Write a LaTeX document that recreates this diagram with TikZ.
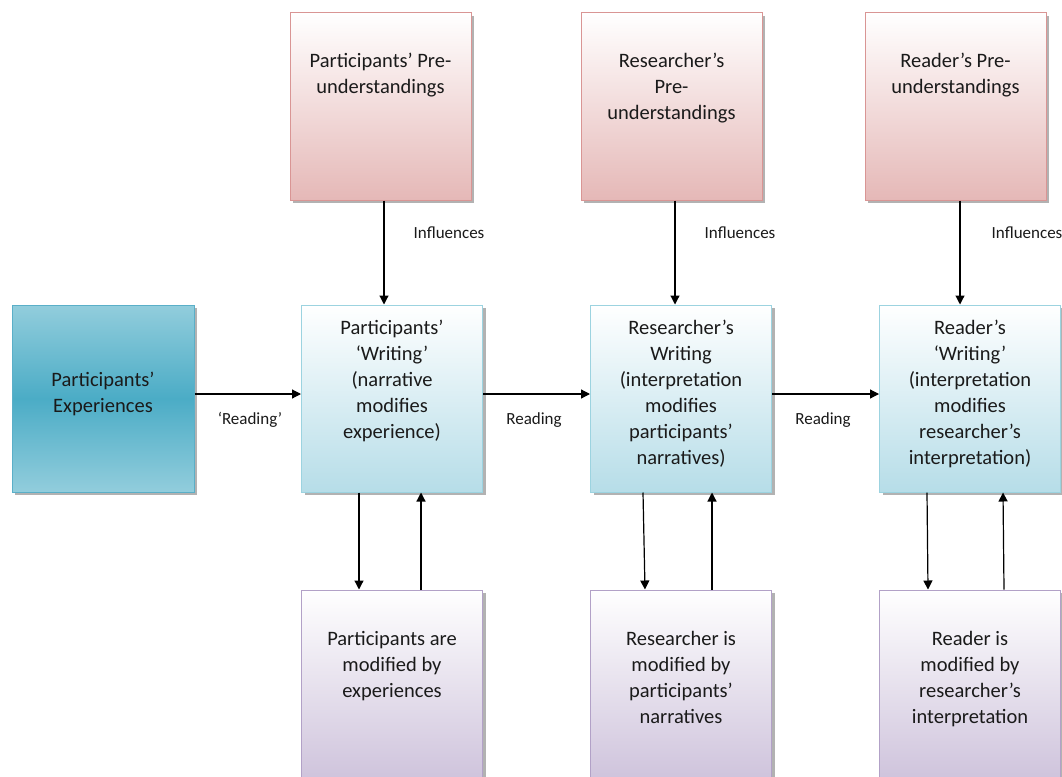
\documentclass[tikz,border=0pt]{standalone}
\usepackage{fontspec}
\setmainfont{Carlito}
\usetikzlibrary{arrows.meta,shadows,calc}
\definecolor{redB}{HTML}{D99594}
\definecolor{redF}{HTML}{E5B8B7}
\definecolor{bluB}{HTML}{9CD3E0}
\definecolor{bluF}{HTML}{B6DDE8}
\definecolor{purB}{HTML}{B2A1C7}
\definecolor{purF}{HTML}{CCC0DA}
\definecolor{expT}{HTML}{92CDDC}
\definecolor{expM}{HTML}{4BACC6}
\definecolor{expB}{HTML}{5AAFC8}
\definecolor{txt}{HTML}{1A1A1A}
\tikzset{
  boxbase/.style={rectangle, inner sep=0pt, line width=1pt, minimum width=181pt,
    drop shadow={shadow xshift=3pt, shadow yshift=-3pt, fill=black, opacity=0.3}},
  redbox/.style={boxbase, draw=redB, top color=white, bottom color=redF, minimum height=187pt},
  blubox/.style={boxbase, draw=bluB, top color=white, bottom color=bluF, minimum height=187pt},
  purbox/.style={boxbase, draw=purB, top color=white, bottom color=purF, minimum height=200pt},
  expbox/.style={boxbase, draw=expB, top color=expT, bottom color=expT, middle color=expM, minimum width=182pt, minimum height=187pt},
  boxtext/.style={anchor=north, align=center, inner sep=0pt, text=txt, font=\fontsize{20.5pt}{26pt}\selectfont},
  lbl/.style={inner sep=0pt, text=txt, font=\fontsize{17pt}{20pt}\selectfont},
  arr/.style={line width=1.2pt, -{Triangle[length=9pt,width=9pt]}}
}
\begin{document}
\begin{tikzpicture}[x=1pt,y=-1pt]
\clip (0,0) rectangle (1062,776);
\fill[white] (0,0) rectangle (1062,776);
% top row
\node[redbox] (r1) at (380.5,106.5) {};
\node[redbox] (r2) at (671.5,106.5) {};
\node[redbox] (r3) at (955.5,106.5) {};
% middle row
\node[expbox] (e) at (103,398.5) {};
\node[blubox] (b1) at (392,398.5) {};
\node[blubox] (b2) at (681,398.5) {};
\node[blubox] (b3) at (970,398.5) {};
% bottom row
\node[purbox] (p1) at (392,690) {};
\node[purbox] (p2) at (681,690) {};
\node[purbox] (p3) at (970,690) {};
% texts
\node[boxtext] (r1t) at ([yshift=-40.5pt]r1.north) {Participants’ Pre-\\understandings};
\node[boxtext] (r2t) at ([yshift=-40.5pt]r2.north) {Researcher’s\\Pre-\\understandings};
\node[boxtext] (r3t) at ([yshift=-40.5pt]r3.north) {Reader’s Pre-\\understandings};
\node[boxtext] (et) at ([yshift=-67pt]e.north) {Participants’\\Experiences};
\node[boxtext] (b1t) at ([yshift=-15.5pt]b1.north) {Participants’\\‘Writing’\\(narrative\\modifies\\experience)};
\node[boxtext] (b2t) at ([yshift=-15.5pt]b2.north) {Researcher’s\\Writing\\(interpretation\\modifies\\participants’\\narratives)};
\node[boxtext] (b3t) at ([yshift=-15.5pt]b3.north) {Reader’s\\‘Writing’\\(interpretation\\modifies\\researcher’s\\interpretation)};
\node[boxtext] (p1t) at ([yshift=-42pt]p1.north) {Participants are\\modified by\\experiences};
\node[boxtext] (p2t) at ([yshift=-42pt]p2.north) {Researcher is\\modified by\\participants’\\narratives};
\node[boxtext] (p3t) at ([yshift=-42pt]p3.north) {Reader is\\modified by\\researcher’s\\interpretation};
% vertical influence arrows
\draw[arr] ([xshift=3.5pt]r1.south) -- ([xshift=3.5pt]r1.south |- b1.north);
\draw[arr] ([xshift=3.5pt]r2.south) -- ([xshift=3.5pt]r2.south |- b2.north);
\draw[arr] ([xshift=4.5pt]r3.south) -- ([xshift=4.5pt]r3.south |- b3.north);
\node[lbl] (i1) at (449,233) {Influences};
\node[lbl] (i2) at (740,233) {Influences};
\node[lbl] (i3) at (1027,233) {Influences};
% horizontal reading arrows
\draw[arr] ([yshift=4.5pt]e.east) -- ([yshift=4.5pt]e.east -| b1.west);
\draw[arr] ([yshift=4.5pt]b1.east) -- ([yshift=4.5pt]b1.east -| b2.west);
\draw[arr] ([yshift=4.5pt]b2.east) -- ([yshift=4.5pt]b2.east -| b3.west);
\node[lbl] (rd1) at (250,420) {‘Reading’};
\node[lbl] (rd2) at (534,420) {Reading};
\node[lbl] (rd3) at (823,420) {Reading};
% modification arrows
\draw[arr] ([xshift=-33pt]b1.south) -- ([xshift=-33pt]p1.north);
\draw[arr] ([xshift=29pt]p1.north) -- ([xshift=29pt]b1.south);
\draw[arr] ([xshift=-38pt]b2.south) -- ([xshift=-36pt]p2.north);
\draw[arr] ([xshift=31pt]p2.north) -- ([xshift=31pt]b2.south);
\draw[arr] ([xshift=-43pt]b3.south) -- ([xshift=-42pt]p3.north);
\draw[arr] ([xshift=34pt]p3.north) -- ([xshift=33pt]b3.south);
\end{tikzpicture}
\end{document}
